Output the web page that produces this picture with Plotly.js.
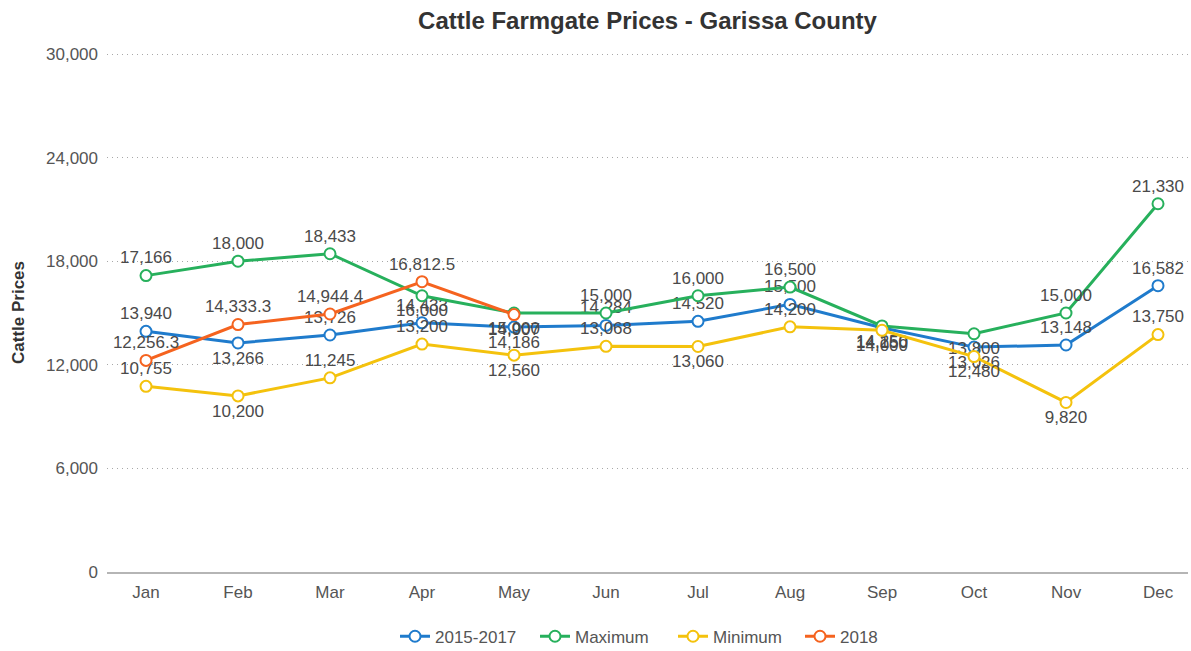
<!DOCTYPE html>
<html>
<head>
<meta charset="utf-8">
<script src="https://cdn.plot.ly/plotly-3.0.1.min.js"></script>
<style>html,body{margin:0;padding:0;background:#fff;}#chart{width:1191px;height:651px;}</style>
</head>
<body>
<div id="chart"></div>
<script>
const months = ["Jan","Feb","Mar","Apr","May","Jun","Jul","Aug","Sep","Oct","Nov","Dec"];
const avg2015_2017 = [13940, 13266, 13726, 14433, 14186, 14284, 14520, 15500, 14150, 13026, 13148, 16582];
const maximum = [17166, 18000, 18433, 16000, 15000, 15000, 16000, 16500, 14250, 13800, 15000, 21330];
const minimum = [10755, 10200, 11245, 13200, 12560, 13068, 13060, 14200, 14000, 12480, 9820, 13750];
const y2018 = [12256.3, 14333.3, 14944.4, 16812.5, 14907];
const months2018 = months.slice(0, 5);
const yTicks = [0, 6000, 12000, 18000, 24000, 30000];

const posBlue = ["top center","bottom center","top center","top center","bottom center","top center","top center","top center","bottom center","bottom center","top center","top center"];
const posGreen = ["top center","top center","top center","bottom center","bottom center","top center","top center","top center","bottom center","bottom center","top center","top center"];
const posYellow = ["top center","bottom center","top center","top center","bottom center","top center","bottom center","top center","bottom center","bottom center","bottom center","top center"];
const posOrange = ["top center","top center","top center","top center","bottom center"];

const FONT = "Liberation Sans, Arial, Helvetica, sans-serif";

function series(name, x, y, color, pos, legendId) {
  return {
    type: "scatter", mode: "lines+markers+text", name: name, x: x, y: y,
    legend: legendId,
    line: {color: color, width: 3},
    marker: {symbol: "circle", size: 11, color: "#ffffff", line: {color: color, width: 2}},
    texttemplate: "%{y:,}", textposition: pos,
    textfont: {family: FONT, size: 17, color: "#4a4a4a"},
    cliponaxis: false, hoverinfo: "x+y"
  };
}

const data = [
  series("2015-2017", months, avg2015_2017, "#1f7bcc", posBlue, "legend"),
  series("Maximum", months, maximum, "#27b05c", posGreen, "legend2"),
  series("Minimum", months, minimum, "#f4c20d", posYellow, "legend3"),
  series("2018", months2018, y2018, "#f5631f", posOrange, "legend4")
];

function leg(px) {
  return {orientation: "h", x: px / 1191, xref: "container", xanchor: "left",
          yref: "container", y: 0.022, yanchor: "middle", itemwidth: 30,
          font: {size: 17, color: "#555"}, bgcolor: "rgba(0,0,0,0)"};
}

const layout = {
  width: 1191, height: 651,
  margin: {l: 107, r: 3, t: 53, b: 79},
  paper_bgcolor: "#fff", plot_bgcolor: "#fff",
  font: {family: FONT, color: "#555", size: 17},
  title: {text: "<b>Cattle Farmgate Prices - Garissa County</b>", x: 0.5, xanchor: "center",
          xref: "paper", y: 0.969, yanchor: "middle", font: {size: 24, color: "#333"}},
  xaxis: {type: "category", range: [-0.424, 11.326], showgrid: false, zeroline: false,
          showline: true, linecolor: "#b5b5b5", linewidth: 2,
          ticks: "", ticklabelstandoff: 4, tickfont: {size: 17, color: "#555"}},
  yaxis: {range: [0, 30060], tickvals: yTicks, tickformat: ",",
          showgrid: true, gridcolor: "#a8a8a8", griddash: "1px,4px", gridwidth: 1, zeroline: false, showline: false,
          ticks: "", ticklabelstandoff: 8, tickfont: {size: 17, color: "#555"},
          title: {text: "<b>Cattle Prices</b>", font: {size: 17, color: "#333"}, standoff: 17}},
  legend: leg(395),
  legend2: leg(535),
  legend3: leg(673),
  legend4: leg(800),
  showlegend: true
};

Plotly.newPlot("chart", data, layout, {displayModeBar: false});
</script>
</body>
</html>
